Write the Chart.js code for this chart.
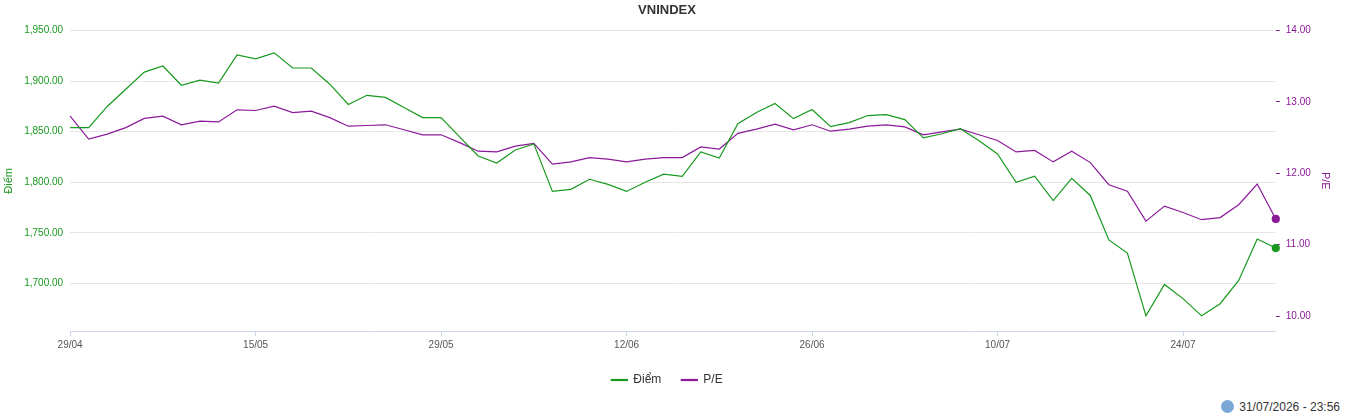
<!DOCTYPE html>
<html>
<head>
<meta charset="utf-8">
<script src="https://cdn.jsdelivr.net/npm/chart.js@4"></script>
<style>
  body { margin: 0; background: #fff; font-family: "Liberation Sans", Arial, sans-serif; }
  #wrap { position: relative; width: 1354px; height: 420px; }
  #stamp { position: absolute; right: 14px; bottom: 6px; font-size: 12px; color: #333; }
  #stamp span { display: inline-block; width: 13px; height: 13px; border-radius: 50%; background: #7aa7d6; vertical-align: -2px; margin-right: 5px; }
</style>
</head>
<body>
<div id="wrap">
  <canvas id="myChart" width="1354" height="396"></canvas>
  <div id="stamp"><span></span>31/07/2026 - 23:56</div>
</div>
<script>
const dates = ['29/04','04/05','05/05','06/05','07/05','08/05','11/05','12/05','13/05','14/05',
  '15/05','18/05','19/05','20/05','21/05','22/05','25/05','26/05','27/05','28/05',
  '29/05','01/06','02/06','03/06','04/06','05/06','08/06','09/06','10/06','11/06',
  '12/06','15/06','16/06','17/06','18/06','19/06','22/06','23/06','24/06','25/06',
  '26/06','29/06','30/06','01/07','02/07','03/07','06/07','07/07','08/07','09/07',
  '10/07','13/07','14/07','15/07','16/07','17/07','20/07','21/07','22/07','23/07',
  '24/07','27/07','28/07','29/07','30/07','31/07'];

const diem = [1854,1854,1875,1892,1909,1915,1896,1901,1898,1926,
  1922,1928,1913,1913,1897,1877,1886,1884,1874,1864,
  1864,1845,1826,1819,1832,1838,1791,1793,1803,1798,
  1791,1800,1808,1806,1830,1824,1858,1869,1878,1863,
  1872,1855,1859,1866,1867,1862,1844,1848,1853,1841,
  1828,1800,1806,1782,1804,1787,1743,1730,1668,1699,
  1685,1668,1680,1703,1744,1735];

const pe = [12.80,12.48,12.55,12.64,12.77,12.80,12.68,12.73,12.72,12.89,
  12.88,12.94,12.85,12.87,12.78,12.66,12.67,12.68,12.61,12.54,
  12.54,12.43,12.31,12.30,12.38,12.42,12.13,12.16,12.22,12.20,
  12.16,12.20,12.22,12.22,12.37,12.34,12.56,12.62,12.69,12.61,
  12.68,12.59,12.62,12.66,12.68,12.65,12.54,12.58,12.62,12.54,
  12.46,12.30,12.32,12.16,12.31,12.15,11.84,11.75,11.33,11.54,
  11.45,11.35,11.38,11.56,11.85,11.36];

const leftTicks = [1700, 1750, 1800, 1850, 1900, 1950];
const rightTicks = [10, 11, 12, 13, 14];

const green = '#17991d';
const purple = '#8b1a99';
const lastDot = ctx => ctx.dataIndex === dates.length - 1 ? 3.5 : 0;

const ctx = document.getElementById('myChart').getContext('2d');
new Chart(ctx, {
  type: 'line',
  data: {
    labels: dates,
    datasets: [
      { label: 'Điểm', data: diem, yAxisID: 'y', borderColor: green, backgroundColor: green,
        borderWidth: 1.2, pointRadius: lastDot, pointHoverRadius: 4, tension: 0 },
      { label: 'P/E', data: pe, yAxisID: 'y1', borderColor: purple, backgroundColor: purple,
        borderWidth: 1.2, pointRadius: lastDot, pointHoverRadius: 4, tension: 0 }
    ]
  },
  options: {
    responsive: false,
    animation: false,
    layout: { padding: { left: 0, right: 20, top: 0, bottom: 0 } },
    plugins: {
      title: { display: true, text: 'VNINDEX', color: '#333', font: { family: 'Liberation Sans', size: 13, weight: 'bold' }, padding: { top: 3, bottom: 12 } },
      legend: {
        position: 'bottom',
        labels: { boxWidth: 16, boxHeight: 1, color: '#333', font: { family: 'Liberation Sans', size: 12 }, padding: 20 }
      },
      tooltip: { enabled: true }
    },
    scales: {
      x: {
        grid: { drawOnChartArea: false, tickLength: 5, color: '#ccd6eb' },
        border: { color: '#ccd6eb' },
        ticks: {
          autoSkip: false, maxRotation: 0, color: '#555', font: { family: 'Liberation Sans', size: 10 },
          callback: (v, i) => i % 10 === 0 ? dates[i] : null
        }
      },
      y: {
        position: 'left', min: 1653, max: 1950,
        afterBuildTicks: a => { a.ticks = leftTicks.map(v => ({ value: v })); },
        grid: { color: '#e6e6e6', drawTicks: false },
        border: { display: false },
        title: { display: true, text: 'Điểm', color: green, font: { family: 'Liberation Sans', size: 11 }, padding: 2 },
        ticks: { color: green, padding: 7, font: { family: 'Liberation Sans', size: 10 },
          callback: v => v.toLocaleString('en-US', { minimumFractionDigits: 2 }) }
      },
      y1: {
        position: 'right', min: 9.79, max: 14,
        afterBuildTicks: a => { a.ticks = rightTicks.map(v => ({ value: v })); },
        grid: { drawOnChartArea: false, tickLength: 4, color: purple },
        border: { display: false },
        title: { display: true, text: 'P/E', color: purple, font: { family: 'Liberation Sans', size: 11 }, padding: 2 },
        ticks: { color: purple, padding: 6, font: { family: 'Liberation Sans', size: 10 },
          callback: v => v.toFixed(2) }
      }
    }
  }
});
</script>
</body>
</html>
